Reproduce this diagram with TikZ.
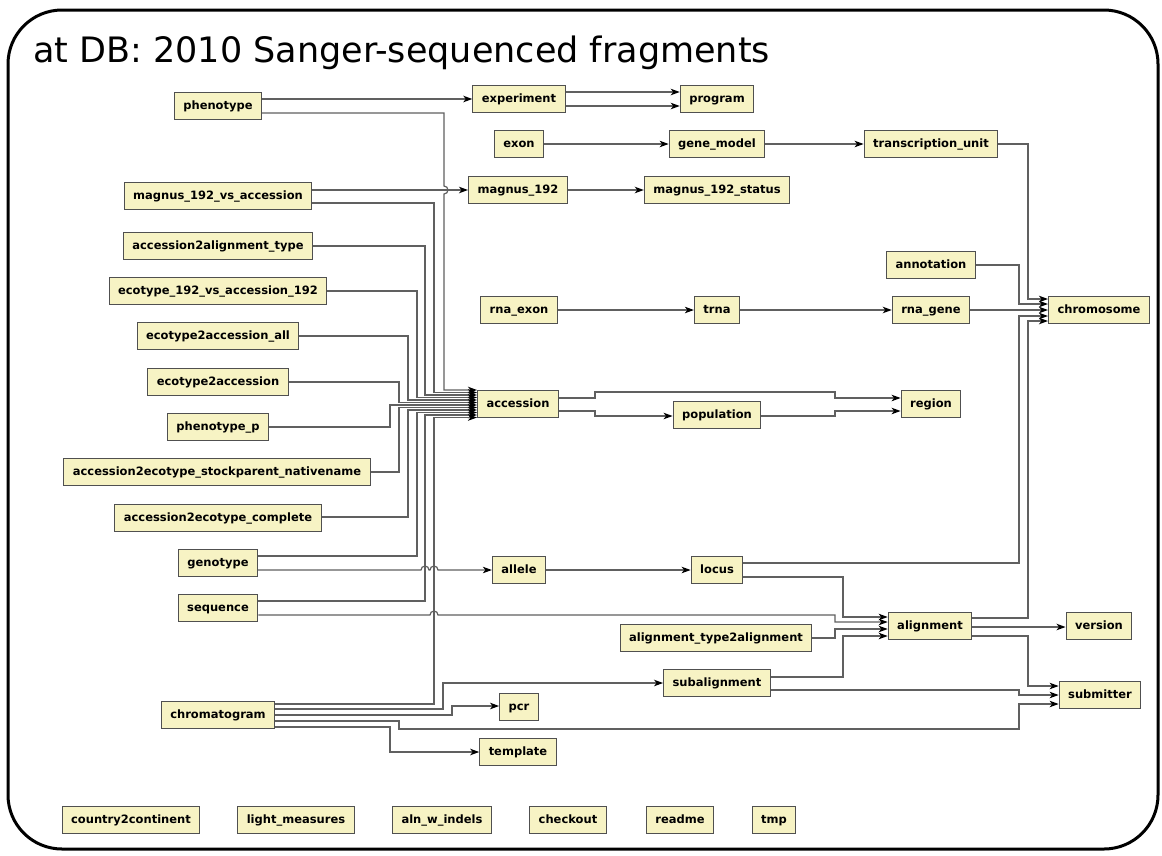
\documentclass[tikz,border=0pt]{standalone}
\usepackage{fontspec}
\setmainfont{DejaVu Sans}
\usetikzlibrary{arrows.meta}
\definecolor{boxfill}{HTML}{F7F3C4}
\definecolor{boxline}{HTML}{505050}
\definecolor{connline}{HTML}{606060}
\tikzset{
  tbl/.style={draw=boxline, fill=boxfill, line width=1.1pt,
    font=\bfseries\fontsize{11.5}{13}\selectfont, inner xsep=9pt, inner ysep=0pt,
    minimum height=27.5pt, text height=8.6pt, text depth=2.4pt},
  conn/.style={draw=connline, line width=1.2pt,
    -{Stealth[length=9pt,width=6.5pt,inset=2.5pt,color=black]}},
}
\begin{document}
\begin{tikzpicture}[x=1pt,y=-1pt]
\useasboundingbox (0,0) rectangle (1162,855);
\draw[line width=3pt, rounded corners=54pt] (8,10) rectangle (1158,849);
\node[anchor=base west, font=\fontsize{35}{40}\selectfont, inner sep=0pt] (title) at (33,62) {at DB: 2010 Sanger-sequenced fragments};

% nodes
\node[tbl] (phenotype) at (218,106) {phenotype};
\node[tbl] (experiment) at (519,99) {experiment};
\node[tbl] (program) at (717,99) {program};
\node[tbl] (exon) at (519,144) {exon};
\node[tbl] (genemodel) at (717,144) {gene\_model};
\node[tbl] (tu) at (931,144) {transcription\_unit};
\node[tbl] (mva) at (218,196) {magnus\_192\_vs\_accession};
\node[tbl] (magnus) at (518,190) {magnus\_192};
\node[tbl] (mstatus) at (717,190) {magnus\_192\_status};
\node[tbl] (a2at) at (218,246) {accession2alignment\_type};
\node[tbl] (annotation) at (931,265) {annotation};
\node[tbl] (e192) at (218,291) {ecotype\_192\_vs\_accession\_192};
\node[tbl] (rnaexon) at (519,310) {rna\_exon};
\node[tbl] (trna) at (717,310) {trna};
\node[tbl] (rnagene) at (931,310) {rna\_gene};
\node[tbl] (chromosome) at (1099,310) {chromosome};
\node[tbl] (e2aall) at (218,336) {ecotype2accession\_all};
\node[tbl] (e2a) at (218,382) {ecotype2accession};
\node[tbl] (accession) at (518,404) {accession};
\node[tbl] (region) at (931,404) {region};
\node[tbl] (population) at (717,415) {population};
\node[tbl] (phenop) at (218,427) {phenotype\_p};
\node[tbl] (a2esp) at (217,472) {accession2ecotype\_stockparent\_nativename};
\node[tbl] (a2ec) at (218,518) {accession2ecotype\_complete};
\node[tbl] (genotype) at (218,563) {genotype};
\node[tbl] (allele) at (519,570) {allele};
\node[tbl] (locus) at (717,570) {locus};
\node[tbl] (sequence) at (218,608) {sequence};
\node[tbl] (alignment) at (930,626) {alignment};
\node[tbl] (version) at (1099,626) {version};
\node[tbl] (at2a) at (716,638) {alignment\_type2alignment};
\node[tbl] (subalignment) at (717,683) {subalignment};
\node[tbl] (submitter) at (1100,695) {submitter};
\node[tbl] (chromatogram) at (218,715) {chromatogram};
\node[tbl] (pcr) at (519,707) {pcr};
\node[tbl] (template) at (518,752) {template};

\node[tbl] (c2c) at (131,820) {country2continent};
\node[tbl] (light) at (296,820) {light\_measures};
\node[tbl] (alnw) at (442,820) {aln\_w\_indels};
\node[tbl] (checkout) at (568,820) {checkout};
\node[tbl] (readme) at (680,820) {readme};
\node[tbl] (tmp) at (774,820) {tmp};

% connectors: top area
\draw[conn] (phenotype.east |- 0,99) -- (experiment.west |- 0,99);
\draw[conn] (phenotype.east |- 0,113) -- (444,113) -- (444,186)
   arc[start angle=-90,end angle=90,radius=4] -- (444,390) -- (accession.west |- 0,390);
\draw[conn] (experiment.east |- 0,92) -- (program.west |- 0,92);
\draw[conn] (experiment.east |- 0,106) -- (program.west |- 0,106);
\draw[conn] (exon.east |- 0,144) -- (genemodel.west |- 0,144);
\draw[conn] (genemodel.east |- 0,144) -- (tu.west |- 0,144);
\draw[conn] (tu.east |- 0,144) -- (1028,144) -- (1028,299) -- (chromosome.west |- 0,299);
\draw[conn] (mva.east |- 0,190) -- (magnus.west |- 0,190);
\draw[conn] (mva.east |- 0,203) -- (434,203) -- (434,392.5) -- (accession.west |- 0,392.5);
\draw[conn] (magnus.east |- 0,190) -- (mstatus.west |- 0,190);
\draw[conn] (a2at.east |- 0,246) -- (425,246) -- (425,395) -- (accession.west |- 0,395);
\draw[conn] (annotation.east |- 0,265) -- (1019,265) -- (1019,304) -- (chromosome.west |- 0,304);
\draw[conn] (e192.east |- 0,291) -- (417,291) -- (417,397.5) -- (accession.west |- 0,397.5);
\draw[conn] (rnaexon.east |- 0,310) -- (trna.west |- 0,310);
\draw[conn] (trna.east |- 0,310) -- (rnagene.west |- 0,310);
\draw[conn] (rnagene.east |- 0,310) -- (chromosome.west |- 0,310);
\draw[conn] (e2aall.east |- 0,336) -- (408,336) -- (408,400) -- (accession.west |- 0,400);
\draw[conn] (e2a.east |- 0,382) -- (399,382) -- (399,402.5) -- (accession.west |- 0,402.5);
\draw[conn] (phenop.east |- 0,427) -- (390,427) -- (390,405) -- (accession.west |- 0,405);
\draw[conn] (a2esp.east |- 0,472) -- (399,472) -- (399,407.5) -- (accession.west |- 0,407.5);
\draw[conn] (a2ec.east |- 0,517) -- (408,517) -- (408,410) -- (accession.west |- 0,410);
\draw[conn] (genotype.east |- 0,556) -- (417,556) -- (417,412.5) -- (accession.west |- 0,412.5);
\draw[conn] (sequence.east |- 0,601) -- (425,601) -- (425,415) -- (accession.west |- 0,415);
\draw[conn] (chromatogram.east |- 0,704) -- (434,704) -- (434,417.5) -- (accession.west |- 0,417.5);

% accession outputs
\draw[conn] (accession.east |- 0,398) -- (595,398) -- (595,392) -- (835,392) -- (835,398) -- (region.west |- 0,398);
\draw[conn] (accession.east |- 0,411) -- (595,411) -- (595,416) -- (population.west |- 0,416);
\draw[conn] (population.east |- 0,416) -- (835,416) -- (835,411) -- (region.west |- 0,411);

% lower area
\draw[conn] (genotype.east |- 0,570) -- (421,570) arc[start angle=180,end angle=360,radius=4]
   -- (430,570) arc[start angle=180,end angle=360,radius=4] -- (allele.west |- 0,570);
\draw[conn] (allele.east |- 0,570) -- (locus.west |- 0,570);
\draw[conn] (locus.east |- 0,563) -- (1019,563) -- (1019,316) -- (chromosome.west |- 0,316);
\draw[conn] (locus.east |- 0,577) -- (843,577) -- (843,617) -- (alignment.west |- 0,617);
\draw[conn] (sequence.east |- 0,615) -- (430,615) arc[start angle=180,end angle=360,radius=4]
   -- (835,615) -- (835,622) -- (alignment.west |- 0,622);
\draw[conn] (at2a.east |- 0,638) -- (835,638) -- (835,629) -- (alignment.west |- 0,629);
\draw[conn] (subalignment.east |- 0,677) -- (843,677) -- (843,636) -- (alignment.west |- 0,636);
\draw[conn] (alignment.east |- 0,618) -- (1028,618) -- (1028,321) -- (chromosome.west |- 0,321);
\draw[conn] (alignment.east |- 0,627) -- (version.west |- 0,627);
\draw[conn] (alignment.east |- 0,636) -- (1028,636) -- (1028,686) -- (submitter.west |- 0,686);
\draw[conn] (subalignment.east |- 0,690) -- (1019,690) -- (1019,695) -- (submitter.west |- 0,695);
\draw[conn] (chromatogram.east |- 0,709) -- (443,709) -- (443,683) -- (subalignment.west |- 0,683);
\draw[conn] (chromatogram.east |- 0,715) -- (452,715) -- (452,706) -- (pcr.west |- 0,706);
\draw[conn] (chromatogram.east |- 0,721) -- (399,721) -- (399,729) -- (1019,729) -- (1019,704) -- (submitter.west |- 0,704);
\draw[conn] (chromatogram.east |- 0,727) -- (390,727) -- (390,752) -- (template.west |- 0,752);
\end{tikzpicture}
\end{document}
